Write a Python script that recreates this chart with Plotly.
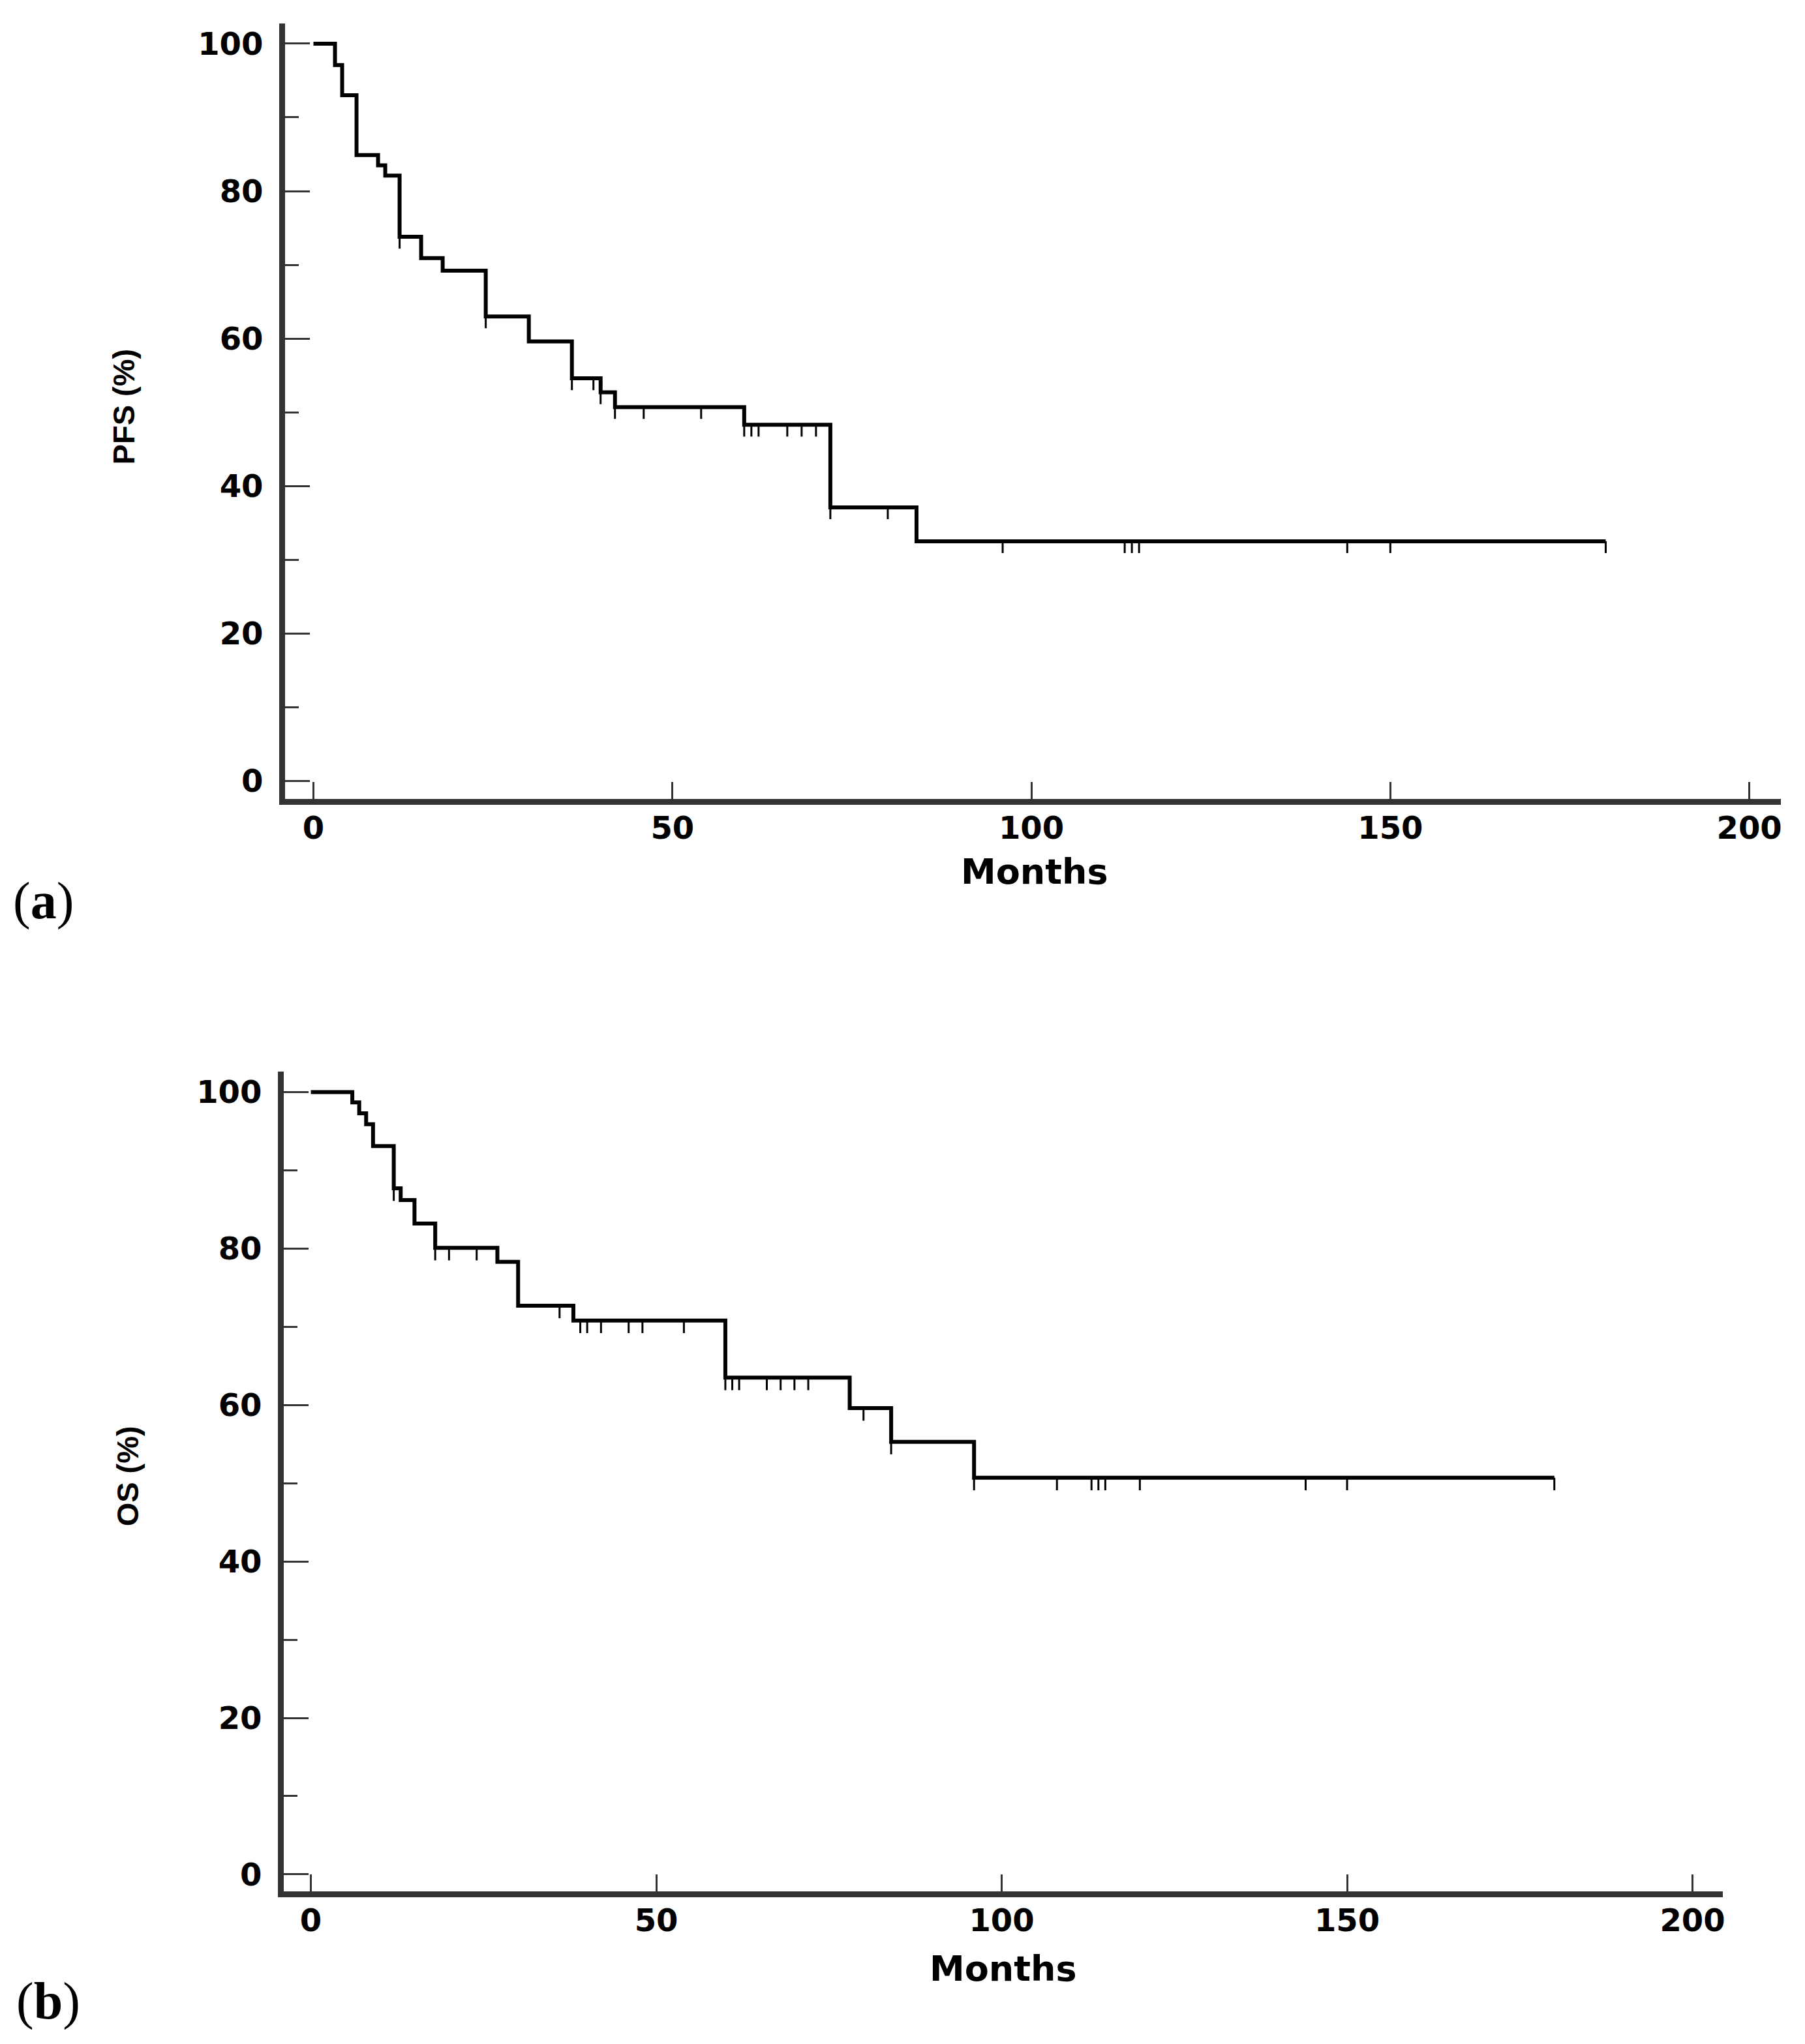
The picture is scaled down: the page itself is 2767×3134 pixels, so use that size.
import plotly.graph_objects as go

# ---------------- data ----------------
pfs_time = [0, 3, 4, 6, 9, 10, 12, 15, 18, 24, 30, 36, 40, 42, 60, 72, 84]
pfs_surv = [100, 97.1, 93.0, 84.9, 83.5, 82.1, 73.8, 70.9, 69.2, 63.0, 59.6, 54.6, 52.7, 50.7, 48.3, 37.1, 32.5]
pfs_end = 180
pfs_censor = [12, 24, 36, 39, 40, 42, 46, 54, 60, 61, 62, 66, 68, 70, 72, 80,
              96, 113, 114, 115, 144, 150, 180]

os_time = [0, 6, 7, 8, 9, 12, 13, 15, 18, 27, 30, 38, 60, 78, 84, 96]
os_surv = [100, 98.7, 97.3, 95.9, 93.1, 87.7, 86.2, 83.2, 80.1, 78.3, 72.7, 70.8, 63.5, 59.6, 55.3, 50.7]
os_end = 180
os_censor = [12, 18, 20, 24, 36, 39, 40, 42, 46, 48, 54, 60, 61, 62, 66, 68, 70, 72, 80, 84,
             96, 108, 113, 114, 115, 120, 144, 150, 180]

x_ticks = [0, 50, 100, 150, 200]
y_ticks = [0, 20, 40, 60, 80, 100]
x_title = "Months"
pfs_title = "PFS (%)"
os_title = "OS (%)"
panel_labels = ["(<b>a</b>)", "(<b>b</b>)"]

# ---------------- layout constants ----------------
OFF = 8                      # default page margin of the html body
W, H = 2767 - OFF, 3134 - OFF
CENSOR_LEN = 1.6             # censor tick length in % units


def px(v):
    return (v - OFF) / W


def py(v):
    return 1 - (v - OFF) / H


def step_level(times, surv, t):
    lvl = surv[0]
    for ti, si in zip(times, surv):
        if ti <= t:
            lvl = si
    return lvl


def km_traces(times, surv, end, censor, xa, ya):
    xs = list(times) + [end]
    ys = list(surv) + [surv[-1]]
    line = go.Scatter(x=xs, y=ys, mode="lines", line=dict(shape="hv", color="black", width=6),
                      xaxis=xa, yaxis=ya, showlegend=False, hoverinfo="skip")
    cx, cy = [], []
    for t in censor:
        lv = step_level(times, surv, t)
        cx += [t, t, None]
        cy += [lv, lv - CENSOR_LEN, None]
    cens = go.Scatter(x=cx, y=cy, mode="lines", line=dict(color="black", width=3),
                      xaxis=xa, yaxis=ya, showlegend=False, hoverinfo="skip")
    return [line, cens]


fig = go.Figure()
for tr in km_traces(pfs_time, pfs_surv, pfs_end, pfs_censor, "x", "y"):
    fig.add_trace(tr)
for tr in km_traces(os_time, os_surv, os_end, os_censor, "x2", "y2"):
    fig.add_trace(tr)

tickfont = dict(family="DejaVu Sans", size=48, color="black", weight="bold")
axcol = "#333333"


def xaxis_cfg(dom, rng, anchor):
    return dict(domain=dom, range=rng, anchor=anchor, showline=True, linewidth=9, linecolor=axcol,
                tickmode="array", tickvals=x_ticks, ticktext=[str(v) for v in x_ticks],
                ticks="inside", ticklen=26, tickwidth=3, tickcolor=axcol,
                tickfont=tickfont, showgrid=False, zeroline=False, ticklabelstandoff=-5)


def yaxis_cfg(dom, rng, anchor):
    return dict(domain=dom, range=rng, anchor=anchor, showline=True, linewidth=9, linecolor=axcol,
                tickmode="array", tickvals=y_ticks, ticktext=[str(v) for v in y_ticks],
                ticks="inside", ticklen=38, tickwidth=3, tickcolor=axcol,
                minor=dict(ticks="inside", ticklen=21, tickwidth=3, tickcolor=axcol,
                           tickmode="linear", tick0=0, dtick=10, showgrid=False),
                tickfont=tickfont, showgrid=False, zeroline=False, ticklabelstandoff=15)


fig.update_layout(
    width=W, height=H, autosize=False,
    margin=dict(l=0, r=0, t=0, b=0),
    paper_bgcolor="white", plot_bgcolor="white",
    xaxis=xaxis_cfg([px(437.5), px(2733)], [-3.95, 204.4], "y"),
    yaxis=yaxis_cfg([py(1225.5), py(36)], [-2.43, 102.74], "x"),
    xaxis2=xaxis_cfg([px(435.5), px(2644)], [-3.92, 204.4], "y2"),
    yaxis2=yaxis_cfg([py(2901.5), py(1644)], [-2.15, 102.64], "x2"),
)

bold_sans = dict(family="DejaVu Sans", size=54, color="black", weight="bold")
title_font = dict(family="Liberation Sans", size=47, color="black", weight="bold")
label_font = dict(family="Liberation Serif", size=80, color="black")


def note(text, x, y, font, angle=0):
    return dict(text=text, x=px(x), y=py(y), xref="paper", yref="paper", xanchor="center",
                yanchor="middle", textangle=angle, showarrow=False, font=font)


ann = [
    note(x_title, 1588, 1337, bold_sans),
    note(x_title, 1540, 3020, bold_sans),
    note(pfs_title, 190, 624, title_font, -90),
    note(os_title, 196, 2265, title_font, -90),
    note(panel_labels[0], 67, 1382, label_font),
    note(panel_labels[1], 74, 3070, label_font),
]
fig.update_layout(annotations=ann)

fig.write_html("out.html")
